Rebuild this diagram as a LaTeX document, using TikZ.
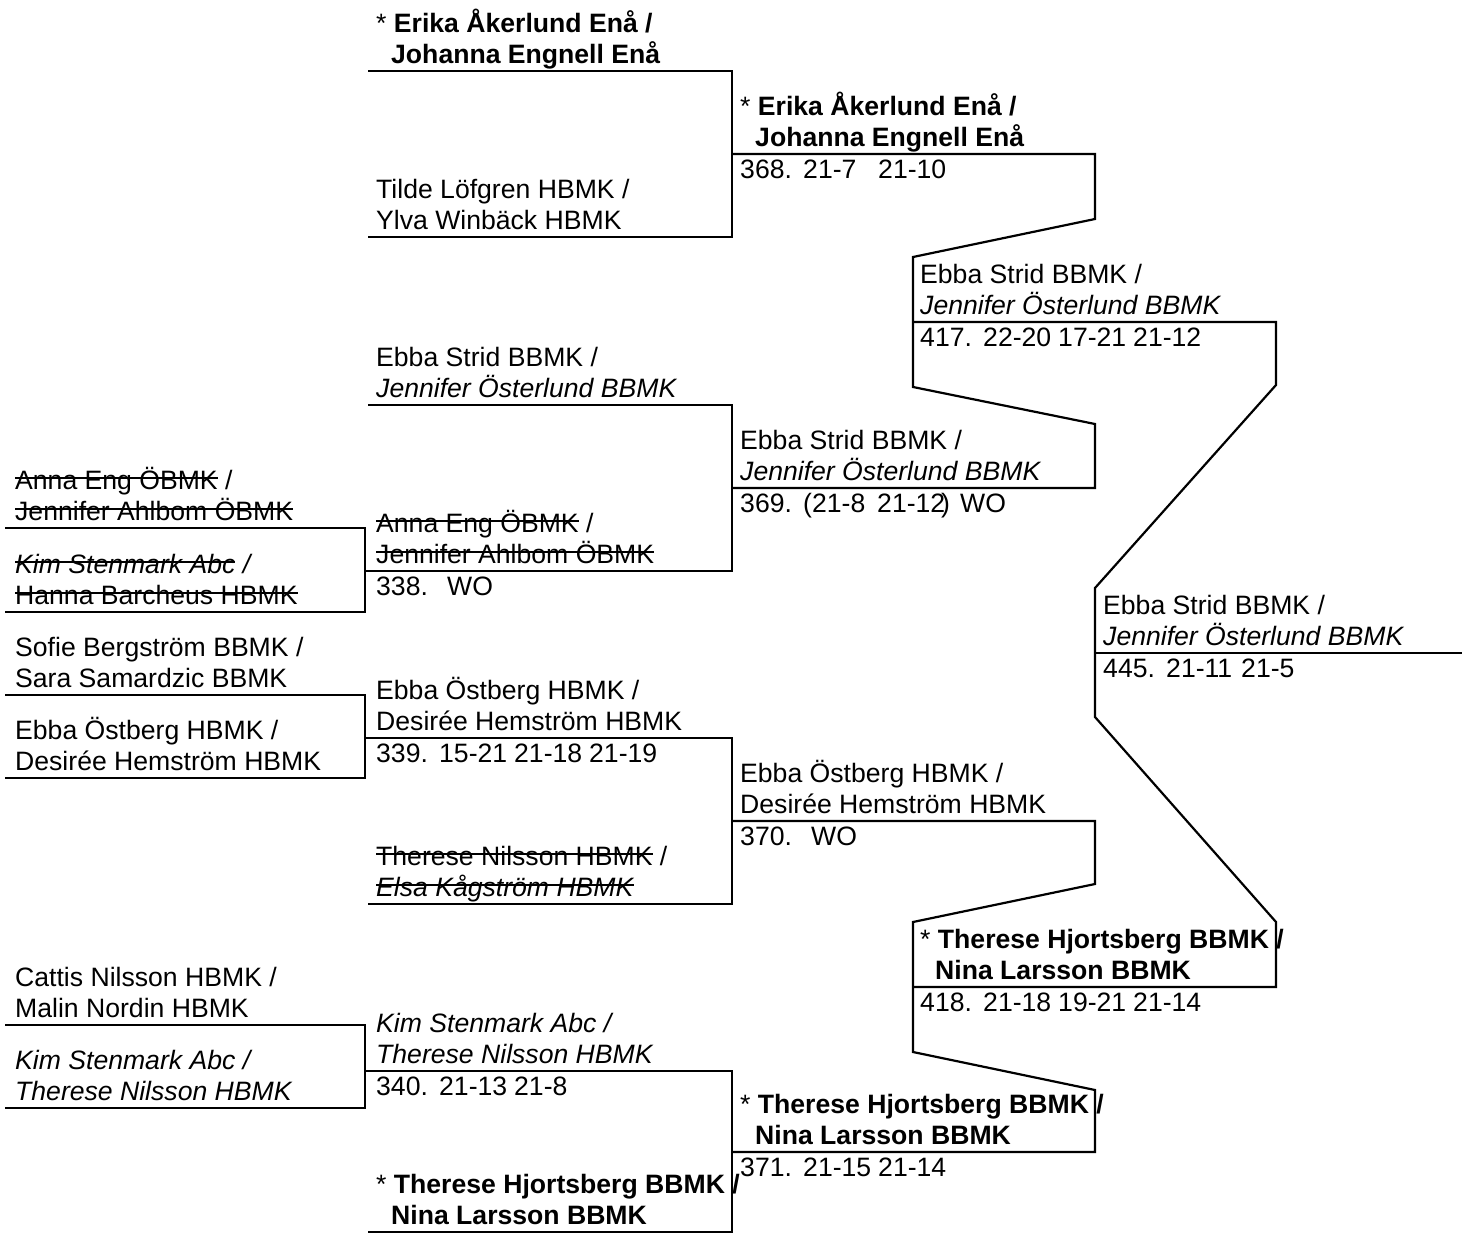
\documentclass[tikz,border=0pt]{standalone}
\usepackage{fontspec}
\setmainfont{Liberation Sans}
\newcommand\strk[1]{\setbox0\hbox{#1}\rlap{\rule[0.38em]{\wd0}{1.6pt}}\box0\relax}
\newcommand\pairtxt[5]{%
  \node[txt] (#1a) at (#2,#3-39) {#4};
  \node[txt] (#1b) at (#2,#3-8) {#5};}
\newcommand\scr[3]{\node[txt] (#1) at (#2) {#3};}
\begin{document}
\begin{tikzpicture}[x=1pt,y=-1pt,
  txt/.style={anchor=base west,inner sep=0pt,font=\fontsize{26.6}{31}\selectfont},
  br/.style={line width=2.2pt,line join=miter}]
\fill[white] (0,0) rectangle (1466,1234);
\useasboundingbox (0,0) rectangle (1466,1234);

% ---------- bracket corner coordinates ----------
% round 1
\coordinate (A1) at (5,528);   \coordinate (A2) at (365,528);  \coordinate (A3) at (365,612);  \coordinate (A4) at (5,612);
\coordinate (B1) at (5,695);   \coordinate (B2) at (365,695);  \coordinate (B3) at (365,778);  \coordinate (B4) at (5,778);
\coordinate (C1) at (5,1025);  \coordinate (C2) at (365,1025); \coordinate (C3) at (365,1108); \coordinate (C4) at (5,1108);
% round 2
\coordinate (D1) at (368,71);   \coordinate (D2) at (732,71);   \coordinate (D3) at (732,237);  \coordinate (D4) at (368,237);
\coordinate (E1) at (368,405);  \coordinate (E2) at (732,405);  \coordinate (E3) at (732,571);  \coordinate (E4) at (365,571);
\coordinate (F1) at (365,738);  \coordinate (F2) at (732,738);  \coordinate (F3) at (732,904);  \coordinate (F4) at (368,904);
\coordinate (G1) at (365,1071); \coordinate (G2) at (732,1071); \coordinate (G3) at (732,1232); \coordinate (G4) at (368,1232);
% round 3
\coordinate (H1) at (732,154); \coordinate (H2) at (1095,154); \coordinate (H3) at (1095,219); \coordinate (H4) at (913,257);
\coordinate (H5) at (913,387); \coordinate (H6) at (1095,424); \coordinate (H7) at (1095,488); \coordinate (H8) at (732,488);
\coordinate (I1) at (732,821); \coordinate (I2) at (1095,821); \coordinate (I3) at (1095,884); \coordinate (I4) at (913,922);
\coordinate (I5) at (913,1052); \coordinate (I6) at (1095,1090); \coordinate (I7) at (1095,1152); \coordinate (I8) at (732,1152);
% round 4
\coordinate (J1) at (913,322); \coordinate (J2) at (1276,322); \coordinate (J3) at (1276,385); \coordinate (J4) at (1095,588);
\coordinate (J5) at (1095,717); \coordinate (J6) at (1276,922); \coordinate (J7) at (1276,987); \coordinate (J8) at (913,987);
% final
\coordinate (K1) at (1095,653); \coordinate (K2) at (1462,653);

\draw[br] (A1) -- (A2) -- (A3) -- (A4);
\draw[br] (B1) -- (B2) -- (B3) -- (B4);
\draw[br] (C1) -- (C2) -- (C3) -- (C4);
\draw[br] (D1) -- (D2) -- (D3) -- (D4);
\draw[br] (E1) -- (E2) -- (E3) -- (E4);
\draw[br] (F1) -- (F2) -- (F3) -- (F4);
\draw[br] (G1) -- (G2) -- (G3) -- (G4);
\draw[br] (H1) -- (H2) -- (H3) -- (H4) -- (H5) -- (H6) -- (H7) -- (H8);
\draw[br] (I1) -- (I2) -- (I3) -- (I4) -- (I5) -- (I6) -- (I7) -- (I8);
\draw[br] (J1) -- (J2) -- (J3) -- (J4) -- (J5) -- (J6) -- (J7) -- (J8);
\draw[br] (K1) -- (K2);

% ---------- round 1 ----------
\pairtxt{ra}{15}{528}{\strk{Anna Eng ÖBMK} /}{\strk{Jennifer Ahlbom ÖBMK}}
\pairtxt{rb}{15}{612}{\strk{\textit{Kim Stenmark Abc}} \textit{/}}{\strk{Hanna Barcheus HBMK}}
\pairtxt{rc}{15}{695}{Sofie Bergström BBMK /}{Sara Samardzic BBMK}
\pairtxt{rd}{15}{778}{Ebba Östberg HBMK /}{Desirée Hemström HBMK}
\pairtxt{re}{15}{1025}{Cattis Nilsson HBMK /}{Malin Nordin HBMK}
\pairtxt{rf}{15}{1108}{\textit{Kim Stenmark Abc /}}{\textit{Therese Nilsson HBMK}}

% ---------- round 2 ----------
\pairtxt{sa}{376}{71}{* \textbf{Erika Åkerlund Enå /}}{\hspace*{15pt}\textbf{Johanna Engnell Enå}}
\pairtxt{sb}{376}{237}{Tilde Löfgren HBMK /}{Ylva Winbäck HBMK}
\pairtxt{sc}{376}{405}{Ebba Strid BBMK /}{\textit{Jennifer Österlund BBMK}}
\pairtxt{sd}{376}{571}{\strk{Anna Eng ÖBMK} /}{\strk{Jennifer Ahlbom ÖBMK}}
\scr{m338}{376,595}{338.} \scr{m338a}{447,595}{WO}
\pairtxt{se}{376}{738}{Ebba Östberg HBMK /}{Desirée Hemström HBMK}
\scr{m339}{376,762}{339.} \scr{m339a}{439,762}{15-21} \scr{m339b}{514,762}{21-18} \scr{m339c}{589,762}{21-19}
\pairtxt{sf}{376}{904}{\strk{Therese Nilsson HBMK} /}{\strk{\textit{Elsa Kågström HBMK}}}
\pairtxt{sg}{376}{1071}{\textit{Kim Stenmark Abc /}}{\textit{Therese Nilsson HBMK}}
\scr{m340}{376,1095}{340.} \scr{m340a}{439,1095}{21-13} \scr{m340b}{514,1095}{21-8}
\pairtxt{sh}{376}{1232}{* \textbf{Therese Hjortsberg BBMK /}}{\hspace*{15pt}\textbf{Nina Larsson BBMK}}

% ---------- round 3 ----------
\pairtxt{ta}{740}{154}{* \textbf{Erika Åkerlund Enå /}}{\hspace*{15pt}\textbf{Johanna Engnell Enå}}
\scr{m368}{740,178}{368.} \scr{m368a}{803,178}{21-7} \scr{m368b}{878,178}{21-10}
\pairtxt{tb}{740}{488}{Ebba Strid BBMK /}{\textit{Jennifer Österlund BBMK}}
\scr{m369}{740,512}{369.} \scr{m369a}{803,512}{(21-8} \scr{m369b}{877,512}{21-12} \scr{m369c}{941,512}{)} \scr{m369d}{960,512}{WO}
\pairtxt{tc}{740}{821}{Ebba Östberg HBMK /}{Desirée Hemström HBMK}
\scr{m370}{740,845}{370.} \scr{m370a}{811,845}{WO}
\pairtxt{td}{740}{1152}{* \textbf{Therese Hjortsberg BBMK /}}{\hspace*{15pt}\textbf{Nina Larsson BBMK}}
\scr{m371}{740,1176}{371.} \scr{m371a}{803,1176}{21-15} \scr{m371b}{878,1176}{21-14}

% ---------- round 4 ----------
\pairtxt{ua}{920}{322}{Ebba Strid BBMK /}{\textit{Jennifer Österlund BBMK}}
\scr{m417}{920,346}{417.} \scr{m417a}{983,346}{22-20} \scr{m417b}{1058,346}{17-21} \scr{m417c}{1133,346}{21-12}
\pairtxt{ub}{920}{987}{* \textbf{Therese Hjortsberg BBMK /}}{\hspace*{15pt}\textbf{Nina Larsson BBMK}}
\scr{m418}{920,1011}{418.} \scr{m418a}{983,1011}{21-18} \scr{m418b}{1058,1011}{19-21} \scr{m418c}{1133,1011}{21-14}

% ---------- final ----------
\pairtxt{va}{1103}{653}{Ebba Strid BBMK /}{\textit{Jennifer Österlund BBMK}}
\scr{m445}{1103,677}{445.} \scr{m445a}{1166,677}{21-11} \scr{m445b}{1241,677}{21-5}
\end{tikzpicture}
\end{document}
